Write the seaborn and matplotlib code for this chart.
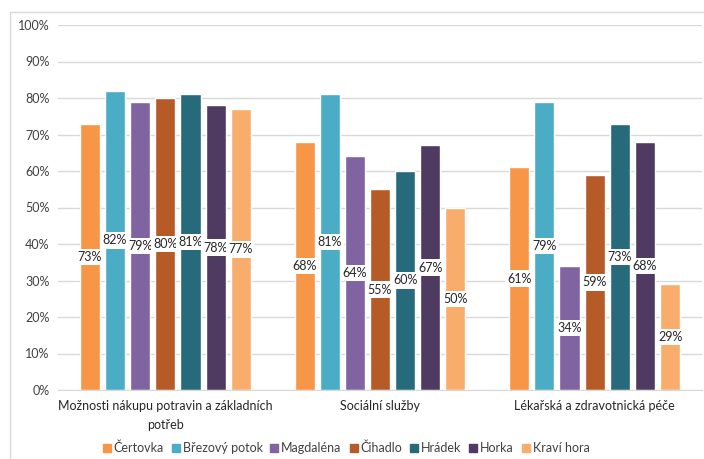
import pandas as pd
import seaborn as sns
import matplotlib.pyplot as plt
from matplotlib.lines import Line2D

# data
categories = ['Možnosti nákupu potravin a základních\npotřeb',
              'Sociální služby',
              'Lékařská a zdravotnická péče']
places = ['Čertovka', 'Březový potok', 'Magdaléna', 'Čihadlo',
          'Hrádek', 'Horka', 'Kraví hora']
certovka = [73, 68, 61]
brezovy_potok = [82, 81, 79]
magdalena = [79, 64, 34]
cihadlo = [80, 55, 59]
hradek = [81, 60, 73]
horka = [78, 67, 68]
kravi_hora = [77, 50, 29]

colors = ['#F79646', '#4BACC6', '#8064A2', '#B65A28',
          '#276A7C', '#4F3B62', '#F8AD6D']

series = [certovka, brezovy_potok, magdalena, cihadlo, hradek, horka, kravi_hora]
rows = []
for place, vals in zip(places, series):
    for cat, v in zip(categories, vals):
        rows.append({'kategorie': cat, 'lokalita': place, 'podil': v})
df = pd.DataFrame(rows)

sns.set_style('white')
plt.rcParams['font.family'] = ['Lato', 'DejaVu Sans']

fig = plt.figure(figsize=(7.04, 4.59), dpi=100)
ax = fig.add_axes([58 / 704, 1 - 390 / 459, 644 / 704, 365 / 459])

sns.barplot(data=df, x='kategorie', y='podil', hue='lokalita',
            hue_order=places, palette=colors, width=0.82, gap=0.2,
            ax=ax, legend=False, saturation=1)

for cont in ax.containers:
    ax.bar_label(cont, labels=[f'{int(v)}%' for v in cont.datavalues],
                 label_type='center', fontsize=9, color='#262626',
                 bbox=dict(facecolor='white', edgecolor='none', pad=1.6))

ax.set_ylim(0, 100)
ax.set_yticks(range(0, 101, 10))
ax.set_yticklabels([f'{t}%' for t in range(0, 101, 10)], fontsize=9, color='#404040')
ax.tick_params(axis='x', labelsize=9, colors='#262626', length=0, pad=7)
ax.tick_params(axis='y', length=0, pad=6)
for lab in ax.get_xticklabels():
    lab.set_multialignment('center')
    lab.set_linespacing(1.7)
ax.set_xlabel('')
ax.set_ylabel('')
ax.grid(axis='y', color='#d9d9d9', linewidth=1)
ax.set_axisbelow(True)
for s in ['top', 'right', 'left']:
    ax.spines[s].set_visible(False)
ax.spines['bottom'].set_color('#d9d9d9')

handles = [Line2D([], [], marker='s', linestyle='', markersize=5.5,
                  markerfacecolor=c, markeredgecolor=c) for c in colors]
fig.legend(handles, places, loc='center', bbox_to_anchor=(0.49, 1 - 448 / 459),
           ncol=7, frameon=False, fontsize=9, handletextpad=0.05,
           columnspacing=0.45, handlelength=1.0, labelcolor='#404040')

# chart border
fig.add_artist(Line2D([10 / 704, 10 / 704], [0, 1 - 12 / 459],
                      transform=fig.transFigure, color='#d9d9d9', linewidth=1))
fig.add_artist(Line2D([10 / 704, 1], [1 - 12 / 459, 1 - 12 / 459],
                      transform=fig.transFigure, color='#d9d9d9', linewidth=1))

fig.savefig('out.png', dpi=100)
